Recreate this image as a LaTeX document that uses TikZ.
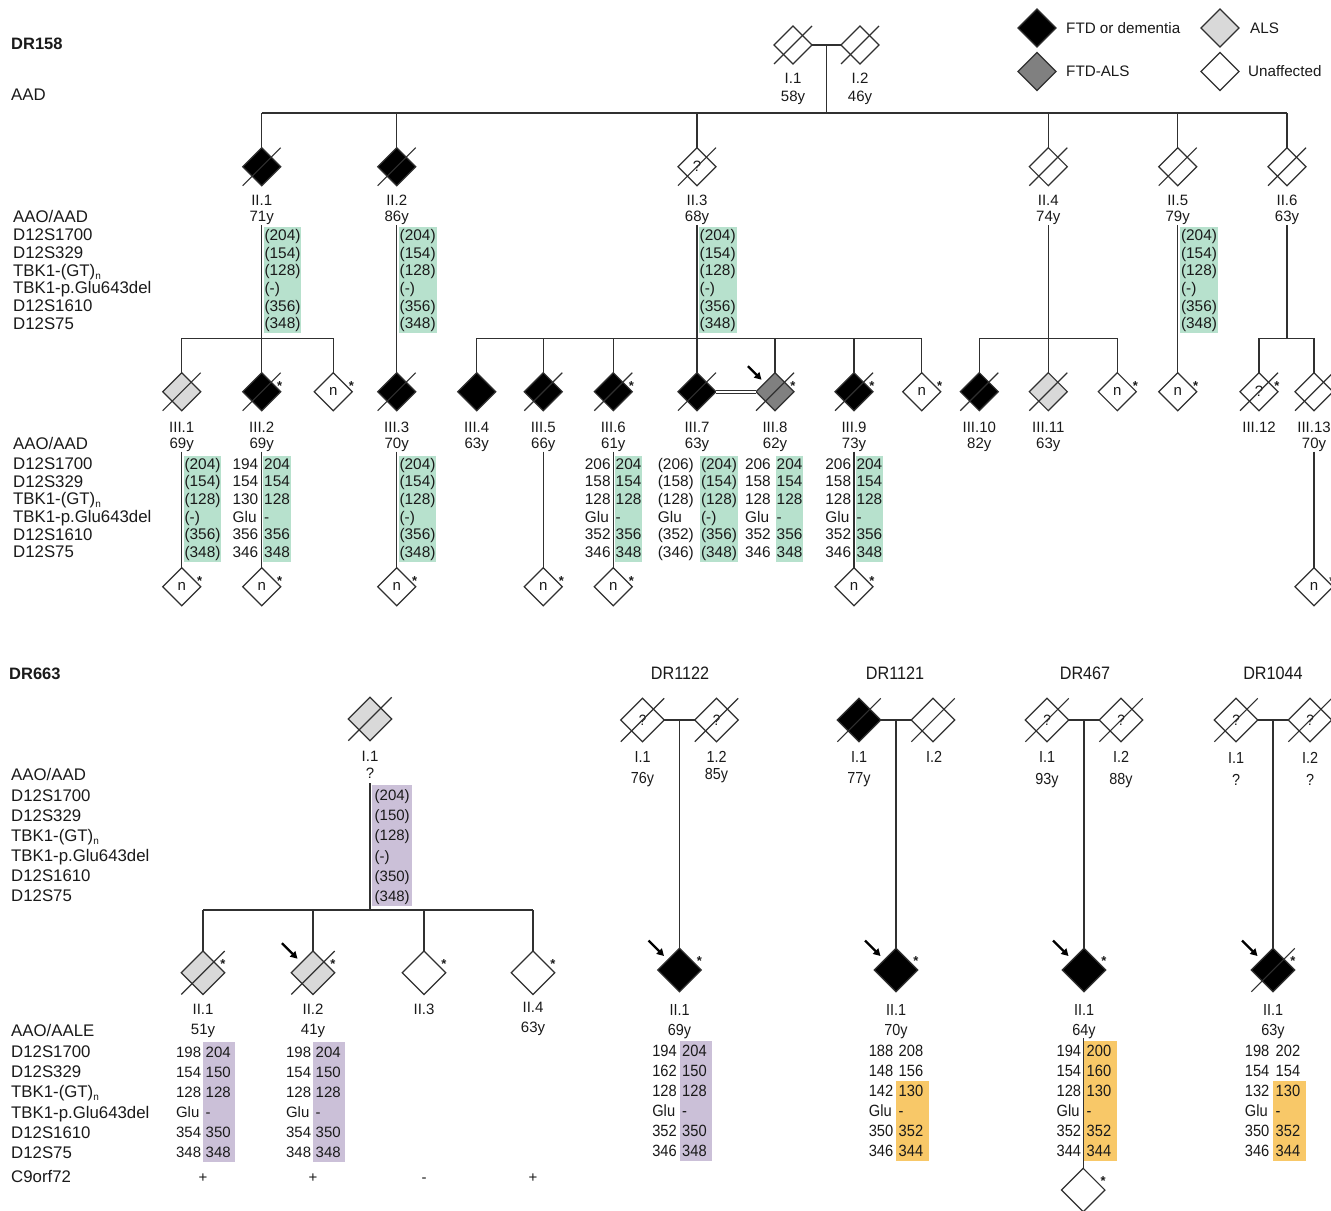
\documentclass[tikz,border=0pt]{standalone}
\usepackage{fontspec}
\setmainfont{Liberation Sans}
\newfontfamily\nsans[FakeStretch=0.9]{Liberation Sans}
\usetikzlibrary{shapes.geometric,arrows.meta}
\definecolor{linec}{HTML}{303030}
\definecolor{txtc}{HTML}{1A1A1A}
\definecolor{hgreen}{HTML}{B7E1CD}
\definecolor{hpurple}{HTML}{CBC0D8}
\definecolor{horange}{HTML}{F8C868}
\definecolor{alsgray}{HTML}{D9D9D9}
\definecolor{fagray}{HTML}{808080}
\newcommand\hs{\rule[-4.2bp]{0pt}{17.7bp}}
\newcommand\hsb{\rule[-4.6bp]{0pt}{20.1bp}}
\newcommand\subn{\raisebox{-3bp}{\fontsize{10bp}{10bp}\selectfont n}}
\newcommand\pslash[1]{\draw[slashln] (#1.west |- #1.south) -- (#1.east |- #1.north);}
\newcommand\pstar[1]{\node[astk] (#1-st) at ([shift={(18,-1.5)}]#1.center) {*};}
\newcommand\pstarB[1]{\node[astk] (#1-st) at ([shift={(20,-4.5)}]#1.center) {*};}
\newcommand\parrow[1]{\coordinate (#1-pa) at ([shift={(-27,-25.5)}]#1.center);\coordinate (#1-pb) at ([shift={(-13.5,-12)}]#1.center);\draw[probarrow] (#1-pa) -- (#1-pb);}
\newcommand\parrowB[1]{\coordinate (#1-pa) at ([shift={(-31,-29.5)}]#1.center);\coordinate (#1-pb) at ([shift={(-15.5,-14)}]#1.center);\draw[probarrow] (#1-pa) -- (#1-pb);}
\newcommand\grpA{\hs(204)\\\hs(154)\\\hs(128)\\\hs(-)\\\hs(356)\\\hs(348)}
\newcommand\grpB{\hs 204\\\hs 154\\\hs 128\\\hs -\\\hs 356\\\hs 348}
\newcommand\grpL{\hs 206\\\hs 158\\\hs 128\\\hs Glu\\\hs 352\\\hs 346}
\newcommand\rowblock[4]{%
  \foreach \lab [count=\i from 0] in {D12S1700,D12S329,{TBK1-(GT)\subn},TBK1-p.Glu643del,D12S1610,D12S75}
    \node[rowlab] (#1-\i) at (#2,{#3+\i*#4}) {\lab};}
\tikzset{
  every node/.style={text=txtc},
  ped/.style={diamond, draw=linec, line width=1.2bp, inner sep=0pt, outer sep=0pt, minimum width=38bp, minimum height=38bp, font=\fontsize{15bp}{15bp}\selectfont},
  pedB/.style={ped, minimum width=43.4bp, minimum height=43.4bp, font=\nsans\fontsize{15bp}{15bp}\selectfont},
  ftd/.style={fill=black},
  ftdals/.style={fill=fagray},
  als/.style={fill=alsgray},
  unaff/.style={fill=white},
  conn/.style={draw=linec, line width=1.2bp},
  slashln/.style={draw=linec, line width=1.1bp},
  probarrow/.style={draw=black, line width=2.2bp, -{Triangle[length=7bp,width=7.5bp]}},
  astk/.style={font=\bfseries\fontsize{13bp}{13bp}\selectfont, inner sep=0pt, anchor=base},
  glab/.style={font=\fontsize{15bp}{15bp}\selectfont, inner sep=0pt, text height=10.7bp, text depth=0pt},
  glabB/.style={font=\nsans\fontsize{16bp}{16bp}\selectfont, inner sep=0pt, text height=11.5bp, text depth=0pt},
  rowlab/.style={font=\fontsize{16.8bp}{16.8bp}\selectfont, inner sep=0pt, text height=12bp, text depth=0pt, anchor=west},
  ttl/.style={font=\bfseries\fontsize{16.5bp}{16.5bp}\selectfont, inner sep=0pt, text height=11.8bp, text depth=0pt, anchor=west},
  ttlB/.style={font=\nsans\fontsize{18bp}{18bp}\selectfont, inner sep=0pt, text height=12.9bp, text depth=0pt},
  legtxt/.style={font=\fontsize{15.2bp}{15.2bp}\selectfont, inner sep=0pt, text height=10.9bp, text depth=0pt, anchor=west},
  hapT/.style={font=\fontsize{15.4bp}{17.7bp}\selectfont, inner xsep=1bp, inner ysep=0pt, align=left},
  boxT/.style={hapT, fill=hgreen},
  hapD/.style={font=\fontsize{15bp}{20.1bp}\selectfont, inner xsep=1bp, inner ysep=0pt, align=left},
  boxD/.style={hapD, fill=hpurple, text width=27bp, inner xsep=2.5bp},
  boxDp/.style={boxD, text width=35bp},
  hapN/.style={font=\nsans\fontsize{16.3bp}{20.1bp}\selectfont, inner xsep=1bp, inner ysep=0pt, align=left},
  boxNn/.style={hapN, text width=27.6bp, inner xsep=2.5bp},
  boxNp/.style={boxNn, fill=hpurple},
  boxNo/.style={boxNn, fill=horange},
}
\begin{document}
\begin{tikzpicture}[x=1bp,y=-1bp]
\useasboundingbox (0,0) rectangle (1331,1210);
\clip (0,0) rectangle (1331,1210);
\fill[white] (0,0) rectangle (1331,1210);

% ================= haplotype boxes (DR158) =================
\node[boxT, anchor=north west] (hII1) at (263.3,226.7) {\grpA};
\node[boxT, anchor=north west] (hII2) at (398.5,226.7) {\grpA};
\node[boxT, anchor=north west] (hII3) at (698.5,226.7) {\grpA};
\node[boxT, anchor=north west] (hII5) at (1179.8,226.7) {\grpA};

\node[boxT, anchor=north west] (hIII1) at (183.3,455.3) {\grpA};
\node[hapT, anchor=north east] (hIII2L) at (259.5,455.3) {\hs 194\\\hs 154\\\hs 130\\\hs Glu\\\hs 356\\\hs 346};
\node[boxT, anchor=north west] (hIII2) at (263,455.3) {\grpB};
\node[boxT, anchor=north west] (hIII3) at (398.3,455.3) {\grpA};
\node[hapT, anchor=north east] (hIII6L) at (611.8,455.3) {\grpL};
\node[boxT, anchor=north west] (hIII6) at (614.5,455.3) {\grpB};
\node[hapT, anchor=north east] (hIII7L) at (695,455.3) {\hs(206)\\\hs(158)\\\hs(128)\\\hs Glu\\\hs(352)\\\hs(346)};
\node[boxT, anchor=north west] (hIII7) at (699.8,455.3) {\grpA};
\node[hapT, anchor=north east] (hIII8L) at (772,455.3) {\grpL};
\node[boxT, anchor=north west] (hIII8) at (775.5,455.3) {\grpB};
\node[hapT, anchor=north east] (hIII9L) at (852.3,455.3) {\grpL};
\node[boxT, anchor=north west] (hIII9) at (855.3,455.3) {\grpB};

% ================= haplotype boxes (bottom) =================
\node[boxDp, anchor=north west] (hdI1) at (372,785) {\hsb(204)\\\hsb(150)\\\hsb(128)\\\hsb(-)\\\hsb(350)\\\hsb(348)};
\node[hapD, anchor=north east] (hdII1L) at (202.3,1041.6) {\hsb 198\\\hsb 154\\\hsb 128\\\hsb Glu\\\hsb 354\\\hsb 348};
\node[boxD, anchor=north west] (hdII1) at (203,1041.6) {\hsb 204\\\hsb 150\\\hsb 128\\\hsb -\\\hsb 350\\\hsb 348};
\node[hapD, anchor=north east] (hdII2L) at (312.3,1041.6) {\hsb 198\\\hsb 154\\\hsb 128\\\hsb Glu\\\hsb 354\\\hsb 348};
\node[boxD, anchor=north west] (hdII2) at (313,1041.6) {\hsb 204\\\hsb 150\\\hsb 128\\\hsb -\\\hsb 350\\\hsb 348};

\node[hapN, anchor=north east] (hAL) at (678,1040.3) {\hsb 194\\\hsb 162\\\hsb 128\\\hsb Glu\\\hsb 352\\\hsb 346};
\node[boxNp, anchor=north west] (hA) at (679.5,1040.3) {\hsb 204\\\hsb 150\\\hsb 128\\\hsb -\\\hsb 350\\\hsb 348};
\node[hapN, anchor=north east] (hBL) at (894.5,1040.3) {\hsb 188\\\hsb 148\\\hsb 142\\\hsb Glu\\\hsb 350\\\hsb 346};
\node[boxNn, anchor=north west] (hB1) at (896,1040.3) {\hsb 208\\\hsb 156};
\node[boxNo, anchor=north west] (hB2) at (896,1080.5) {\hsb 130\\\hsb -\\\hsb 352\\\hsb 344};
\node[hapN, anchor=north east] (hCL) at (1082.3,1040.3) {\hsb 194\\\hsb 154\\\hsb 128\\\hsb Glu\\\hsb 352\\\hsb 344};
\node[boxNo, anchor=north west] (hC) at (1084,1040.3) {\hsb 200\\\hsb 160\\\hsb 130\\\hsb -\\\hsb 352\\\hsb 344};
\node[hapN, anchor=north east] (hDL) at (1270.5,1040.3) {\hsb 198\\\hsb 154\\\hsb 132\\\hsb Glu\\\hsb 350\\\hsb 346};
\node[boxNn, anchor=north west] (hD1) at (1273,1040.3) {\hsb 202\\\hsb 154};
\node[boxNo, anchor=north west] (hD2) at (1273,1080.5) {\hsb 130\\\hsb -\\\hsb 352\\\hsb 344};

% ================= DR158 titles, legend =================
\node[ttl] (t158) at (11,44) {DR158};
\node[rowlab] (aad) at (11,94) {AAD};

\node[ped,ftd] (lg1) at (1037,28) {};
\node[legtxt] (lg1t) at (1066,28) {FTD or dementia};
\node[ped,ftdals] (lg2) at (1037,71.5) {};
\node[legtxt] (lg2t) at (1066,71.5) {FTD-ALS};
\node[ped,als] (lg3) at (1220,28) {};
\node[legtxt] (lg3t) at (1250,28) {ALS};
\node[ped,unaff] (lg4) at (1220,71.5) {};
\node[legtxt] (lg4t) at (1248,71.5) {Unaffected};

% ================= DR158 generation I =================
\node[ped,unaff] (I1) at (793,45) {}; \pslash{I1}
\node[ped,unaff] (I2) at (860,45) {}; \pslash{I2}
\draw[conn] (I1.east) -- (I2.west);
\coordinate (cI) at (826.5,45);
\coordinate (sibII) at (826.5,113);
\draw[conn] (cI) -- (sibII);
\node[glab] (I1l) at (793,78) {I.1};
\node[glab] (I1a) at (793,96) {58y};
\node[glab] (I2l) at (860,78) {I.2};
\node[glab] (I2a) at (860,96) {46y};

% ================= DR158 generation II =================
\node[ped,ftd] (II1) at (261.7,166.7) {}; \pslash{II1}
\node[ped,ftd] (II2) at (396.7,166.7) {}; \pslash{II2}
\node[ped,unaff] (II3) at (697,166.7) {?}; \pslash{II3}
\node[ped,unaff] (II4) at (1048.3,166.7) {}; \pslash{II4}
\node[ped,unaff] (II5) at (1177.7,166.7) {}; \pslash{II5}
\node[ped,unaff] (II6) at (1287,166.7) {}; \pslash{II6}
\draw[conn] (II1.north |- sibII) -- (II6.north |- sibII);
\foreach \n in {II1,II2,II3,II4,II5,II6} \draw[conn] (\n.north) -- (\n.north |- sibII);
\foreach \n/\l/\x/\a in {II1/II.1/261.7/71y,II2/II.2/396.7/86y,II3/II.3/697/68y,II4/II.4/1048.3/74y,II5/II.5/1177.7/79y,II6/II.6/1287/63y}{
  \node[glab] (\n-l) at (\x,200) {\l};
  \node[glab] (\n-a) at (\x,216) {\a};
  \coordinate (\n-d) at (\x,225);
}
\node[rowlab] (aoA) at (13,216) {AAO/AAD};
\rowblock{rA}{13}{234.7}{17.7}

% ================= DR158 generation III =================
\node[ped,als] (III1) at (181.7,391.7) {}; \pslash{III1}
\node[ped,ftd] (III2) at (261.7,391.7) {}; \pslash{III2} \pstar{III2}
\node[ped,unaff] (nA) at (333.3,391.7) {n}; \pstar{nA}
\node[ped,ftd] (III3) at (396.7,391.7) {}; \pslash{III3}
\node[ped,ftd] (III4) at (476.7,391.7) {};
\node[ped,ftd] (III5) at (543.3,391.7) {}; \pslash{III5}
\node[ped,ftd] (III6) at (613.3,391.7) {}; \pslash{III6} \pstar{III6}
\node[ped,ftd] (III7) at (697,391.7) {}; \pslash{III7}
\node[ped,ftdals] (III8) at (775,391.7) {}; \pslash{III8} \pstar{III8} \parrow{III8}
\node[ped,ftd] (III9) at (854,391.7) {}; \pslash{III9} \pstar{III9}
\node[ped,unaff] (nB) at (921.7,391.7) {n}; \pstar{nB}
\node[ped,ftd] (III10) at (979.3,391.7) {}; \pslash{III10}
\node[ped,als] (III11) at (1048.3,391.7) {}; \pslash{III11}
\node[ped,unaff] (nC) at (1117.3,391.7) {n}; \pstar{nC}
\node[ped,unaff] (nD) at (1177.7,391.7) {n}; \pstar{nD}
\node[ped,unaff] (III12) at (1259,391.7) {?}; \pslash{III12} \pstar{III12}
\node[ped,unaff] (III13) at (1314,391.7) {}; \pslash{III13}

\coordinate (sibIII) at (700,338.3);
\draw[conn] (III1.north |- sibIII) -- (nA.north |- sibIII);
\draw[conn] (III4.north |- sibIII) -- (nB.north |- sibIII);
\draw[conn] (III10.north |- sibIII) -- (nC.north |- sibIII);
\draw[conn] (III12.north |- sibIII) -- (III13.north |- sibIII);
\foreach \n in {III1,nA,III4,III5,III6,III8,III9,nB,III10,nC,III12,III13}
  \draw[conn] (\n.north) -- (\n.north |- sibIII);
\draw[conn] (II1-d) -- (III2.north);
\draw[conn] (II2-d) -- (III3.north);
\draw[conn] (II3-d) -- (III7.north);
\draw[conn] (II4-d) -- (III11.north);
\draw[conn] (II5-d) -- (nD.north);
\draw[conn] (II6-d) -- (II6-d |- sibIII);
\draw[draw=linec, line width=0.9bp, double=white, double distance=2.2bp] (III7.east) -- (III8.west);

\foreach \n/\l/\x/\a in {III1/III.1/181.7/69y,III2/III.2/261.7/69y,III3/III.3/396.7/70y,III4/III.4/476.7/63y,III5/III.5/543.3/66y,III6/III.6/613.3/61y,III7/III.7/697/63y,III8/III.8/775/62y,III9/III.9/854/73y,III10/III.10/979.3/82y,III11/III.11/1048.3/63y,III13/III.13/1314/70y}{
  \node[glab] (\n-l) at (\x,427.3) {\l};
  \node[glab] (\n-a) at (\x,443.3) {\a};
  \coordinate (\n-d) at (\x,451.5);
}
\node[glab] (III12-l) at (1259,427.3) {III.12};
\node[rowlab] (aoB) at (13,443.3) {AAO/AAD};
\rowblock{rB}{13}{463.3}{17.7}

% ================= DR158 generation IV =================
\foreach \n/\x in {mA/181.7,mB/261.7,mC/396.7,mD/543.3,mE/613.3,mF/854,mG/1314}{
  \node[ped,unaff] (\n) at (\x,586.7) {n}; \pstar{\n}
}
\draw[conn] (III1-d) -- (mA.north);
\draw[conn] (III2-d) -- (mB.north);
\draw[conn] (III3-d) -- (mC.north);
\draw[conn] (III5-d) -- (mD.north);
\draw[conn] (III6-d) -- (mE.north);
\draw[conn] (III9-d) -- (mF.north);
\draw[conn] (III13-d) -- (mG.north);

% ================= DR663 =================
\node[ttl] (t663) at (9,673.5) {DR663};
\node[pedB,als] (dI1) at (370,719) {}; \pslash{dI1}
\node[glab] (dI1l) at (370,756) {I.1};
\node[glab] (dI1a) at (370,773.5) {?};
\coordinate (dI1d) at (370,783);
\coordinate (sibE) at (370,910);
\draw[conn] (dI1d) -- (sibE);
\node[rowlab] (aoC) at (11,774) {AAO/AAD};
\rowblock{rC}{11}{795}{20}

\node[pedB,als] (dII1) at (203,972.7) {}; \pslash{dII1} \pstarB{dII1}
\node[pedB,als] (dII2) at (313,972.7) {}; \pslash{dII2} \pstarB{dII2} \parrowB{dII2}
\node[pedB,unaff] (dII3) at (424,972.7) {}; \pstarB{dII3}
\node[pedB,unaff] (dII4) at (533,972.7) {}; \pstarB{dII4}
\draw[conn] (dII1.north |- sibE) -- (dII4.north |- sibE);
\foreach \n in {dII1,dII2,dII3,dII4} \draw[conn] (\n.north) -- (\n.north |- sibE);
\node[glab] (dII1l) at (203,1009.5) {II.1};
\node[glab] (dII1a) at (203,1029.5) {51y};
\node[glab] (dII2l) at (313,1009.5) {II.2};
\node[glab] (dII2a) at (313,1029.5) {41y};
\node[glab] (dII3l) at (424,1009.5) {II.3};
\node[glab] (dII4l) at (533,1007) {II.4};
\node[glab] (dII4a) at (533,1027) {63y};
\node[rowlab] (aoD) at (11,1030) {AAO/AALE};
\rowblock{rD}{11}{1051.7}{20.1}
\node[rowlab] (c9) at (11,1176.7) {C9orf72};
\node[glab] (c9a) at (203,1176.7) {+};
\node[glab] (c9b) at (313,1176.7) {+};
\node[glab] (c9c) at (424,1176.7) {-};
\node[glab] (c9d) at (533,1176.7) {+};

% ================= DR1122 =================
\node[ttlB] (tA) at (680,673.5) {DR1122};
\node[pedB,unaff] (fA1) at (642.5,720) {?}; \pslash{fA1}
\node[pedB,unaff] (fA2) at (716.5,720) {?}; \pslash{fA2}
\draw[conn] (fA1.east) -- (fA2.west);
\node[pedB,ftd] (fAII) at (679.5,970) {}; \pstarB{fAII} \parrowB{fAII}
\coordinate (cA) at (679.5,720);
\draw[conn] (cA) -- (fAII.north);
\node[glabB] (fA1l) at (642.5,757) {I.1};
\node[glabB] (fA1a) at (642.5,778) {76y};
\node[glabB] (fA2l) at (716.5,757) {1.2};
\node[glabB] (fA2a) at (716.5,774) {85y};
\node[glabB] (fAIIl) at (679.5,1009.5) {II.1};
\node[glabB] (fAIIa) at (679.5,1029.5) {69y};

% ================= DR1121 =================
\node[ttlB] (tB) at (895,673.5) {DR1121};
\node[pedB,ftd] (fB1) at (859,720) {}; \pslash{fB1}
\node[pedB,unaff] (fB2) at (933,720) {}; \pslash{fB2}
\draw[conn] (fB1.east) -- (fB2.west);
\node[pedB,ftd] (fBII) at (896,970) {}; \pstarB{fBII} \parrowB{fBII}
\coordinate (cB) at (896,720);
\draw[conn] (cB) -- (fBII.north);
\node[glabB] (fB1l) at (859,757) {I.1};
\node[glabB] (fB1a) at (859,778) {77y};
\node[glabB] (fB2l) at (934,757) {I.2};
\node[glabB] (fBIIl) at (896,1009.5) {II.1};
\node[glabB] (fBIIa) at (896,1029.5) {70y};

% ================= DR467 =================
\node[ttlB] (tC) at (1085,673.5) {DR467};
\node[pedB,unaff] (fC1) at (1047,720) {?}; \pslash{fC1}
\node[pedB,unaff] (fC2) at (1121,720) {?}; \pslash{fC2}
\draw[conn] (fC1.east) -- (fC2.west);
\node[pedB,ftd] (fCII) at (1084,970) {}; \pstarB{fCII} \parrowB{fCII}
\coordinate (cC) at (1084,720);
\draw[conn] (cC) -- (fCII.north);
\node[pedB,unaff] (fCIII) at (1083.2,1190) {}; \pstarB{fCIII}
\coordinate (cCd) at (1083.2,1038);
\draw[conn] (cCd) -- (fCIII.north);
\node[glabB] (fC1l) at (1047,757) {I.1};
\node[glabB] (fC1a) at (1047,779) {93y};
\node[glabB] (fC2l) at (1121,757) {I.2};
\node[glabB] (fC2a) at (1121,779) {88y};
\node[glabB] (fCIIl) at (1084,1009.5) {II.1};
\node[glabB] (fCIIa) at (1084,1029.5) {64y};

% ================= DR1044 =================
\node[ttlB] (tD) at (1273,673.5) {DR1044};
\node[pedB,unaff] (fD1) at (1236,720) {?}; \pslash{fD1}
\node[pedB,unaff] (fD2) at (1310,720) {?}; \pslash{fD2}
\draw[conn] (fD1.east) -- (fD2.west);
\node[pedB,ftd] (fDII) at (1273,970) {}; \pslash{fDII} \pstarB{fDII} \parrowB{fDII}
\coordinate (cD) at (1273,720);
\draw[conn] (cD) -- (fDII.north);
\node[glabB] (fD1l) at (1236,758) {I.1};
\node[glabB] (fD1a) at (1236,780) {?};
\node[glabB] (fD2l) at (1310,758) {I.2};
\node[glabB] (fD2a) at (1310,780) {?};
\node[glabB] (fDIIl) at (1273,1009.5) {II.1};
\node[glabB] (fDIIa) at (1273,1029.5) {63y};
\end{tikzpicture}
\end{document}
